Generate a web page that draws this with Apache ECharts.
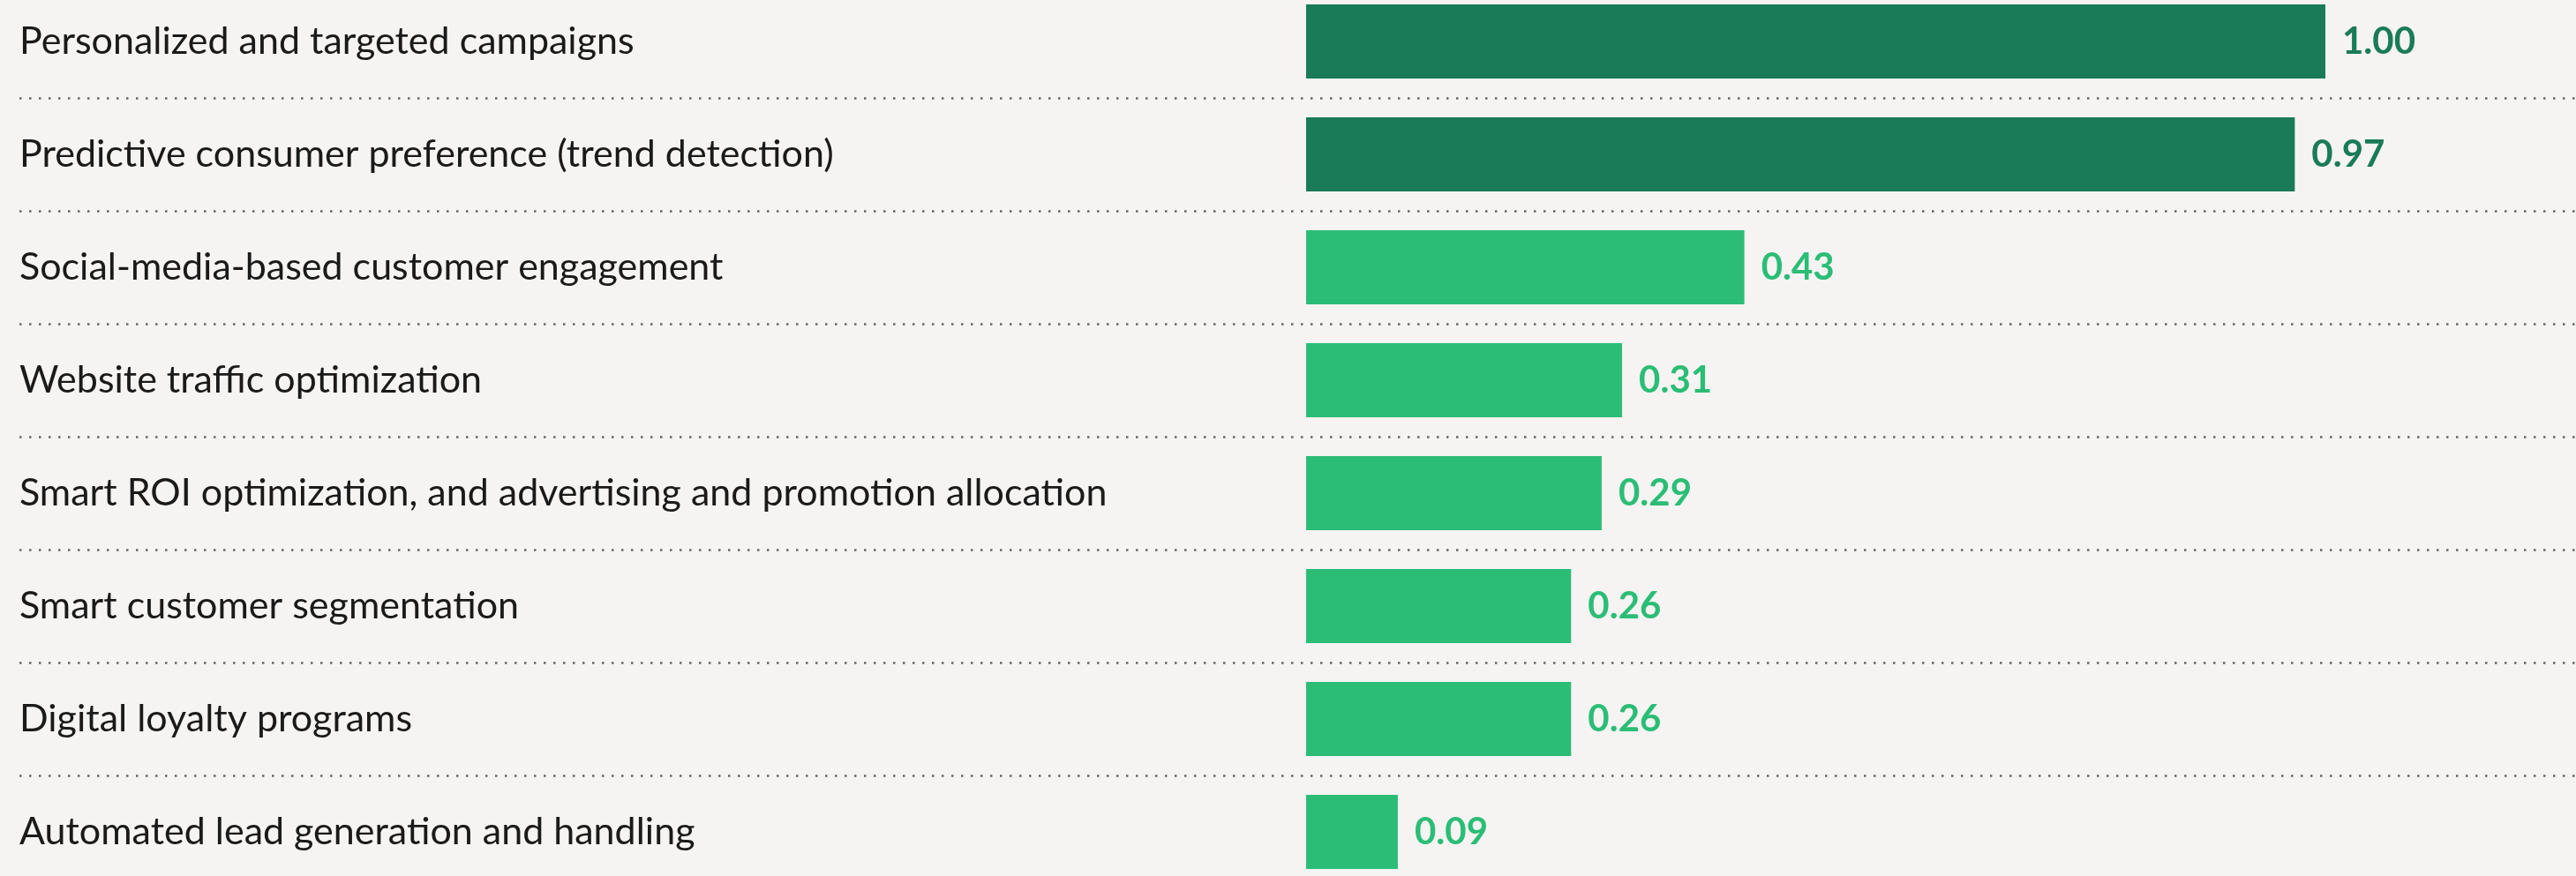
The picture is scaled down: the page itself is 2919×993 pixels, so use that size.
<!DOCTYPE html>
<html>
<head>
<meta charset="utf-8">
<script src="https://cdn.jsdelivr.net/npm/echarts@6/dist/echarts.min.js"></script>
<style>
  html, body { margin: 0; padding: 0; background: #f5f4f2; overflow: hidden; }
  #wrap { position: relative; width: 2919px; height: 993px; overflow: hidden; }
  #chart { position: absolute; left: 0; top: -17px; width: 2919px; height: 1024px; }
</style>
</head>
<body>
<div id="wrap"><div id="chart"></div></div>
<script>
const categories = [
  "Personalized and targeted campaigns",
  "Predictive consumer preference (trend detection)",
  "Social-media-based customer engagement",
  "Website traffic optimization",
  "Smart ROI optimization, and advertising and promotion allocation",
  "Smart customer segmentation",
  "Digital loyalty programs",
  "Automated lead generation and handling"
];
const values = [1.00, 0.97, 0.43, 0.31, 0.29, 0.26, 0.26, 0.09];
const highlightCount = 2;

const DARK = '#1a7b58';
const LIGHT = '#2bbd76';

const chart = echarts.init(document.getElementById('chart'));
chart.setOption({
  backgroundColor: '#f5f4f2',
  animation: false,
  grid: [
    { left: 22, right: 0, top: 0, bottom: 0 },
    { left: 1480, right: 53, top: 0, bottom: 0 }
  ],
  xAxis: [
    { gridIndex: 0, type: 'value', show: false, min: 0, max: 1 },
    { gridIndex: 1, type: 'value', min: 0, max: 1.2, show: false }
  ],
  yAxis: [
    {
      gridIndex: 0, type: 'category', data: categories, inverse: true,
      axisLine: { show: false }, axisTick: { show: false }, axisLabel: { show: false },
      splitLine: { show: true, lineStyle: { color: '#666666', width: 2.5, type: [2.5, 8.5] } }
    },
    {
      gridIndex: 1, type: 'category', data: categories, inverse: true,
      axisLine: { show: false }, axisTick: { show: false }, splitLine: { show: false },
      axisLabel: {
        align: 'left', margin: 1458, color: '#1a1a1a',
        fontFamily: 'Lato', fontSize: 43, verticalAlign: 'middle'
      }
    }
  ],
  series: [{
    type: 'bar',
    xAxisIndex: 1, yAxisIndex: 1,
    data: values,
    barWidth: 84,
    itemStyle: {
      color: p => p.dataIndex < highlightCount ? DARK : LIGHT
    },
    label: {
      show: true, position: 'right', distance: 19,
      fontFamily: 'Lato', fontWeight: 'bold', fontSize: 42,
      formatter: p => p.value.toFixed(2),
      color: 'inherit'
    }
  }]
});
</script>
</body>
</html>
